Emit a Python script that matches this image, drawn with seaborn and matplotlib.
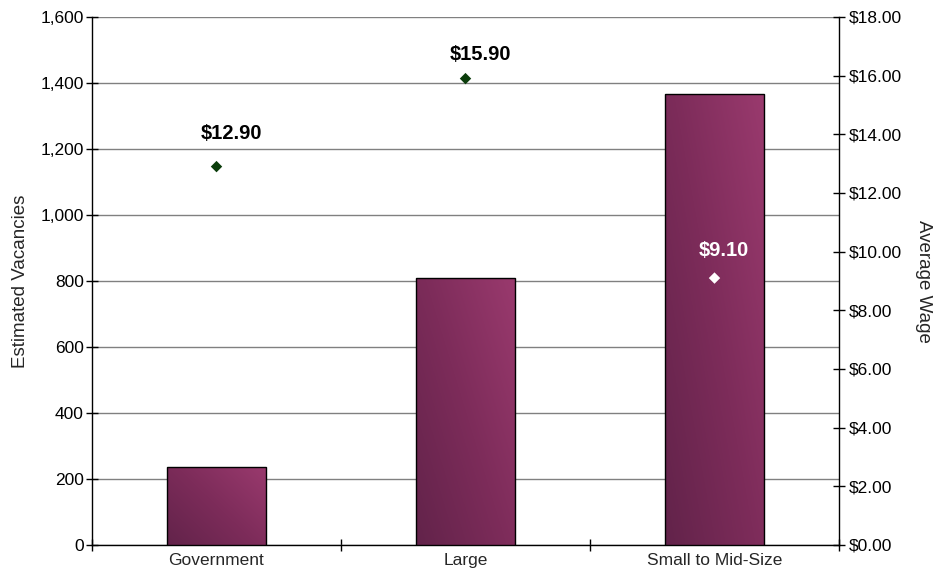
import numpy as np
import pandas as pd
import matplotlib
matplotlib.use("Agg")
import matplotlib.pyplot as plt
import seaborn as sns
from matplotlib.colors import LinearSegmentedColormap
from matplotlib.ticker import FuncFormatter, MultipleLocator, FixedLocator

categories = ["Government", "Large", "Small to Mid-Size"]
vacancies = [237, 810, 1368]
wages = [12.90, 15.90, 9.10]
wage_labels = ["$12.90", "$15.90", "$9.10"]
marker_colors = ["#0b3d0b", "#0b3d0b", "#ffffff"]
label_colors = ["#000000", "#000000", "#ffffff"]
label_offsets_pt = [(11, 24), (11, 17), (7, 19.5)]

sns.set_theme(style="white")
plt.rcParams['font.family'] = ['Liberation Sans', 'DejaVu Sans']

fig = plt.figure(figsize=(9.44, 5.8), dpi=100)
ax = fig.add_axes([92/944, 1-545/580, (839-92)/944, (545-17)/580])

df = pd.DataFrame({"cat": categories, "vac": vacancies})
sns.barplot(data=df, x="cat", y="vac", ax=ax, width=0.4, color="#8a3060",
            edgecolor="black", linewidth=1, saturation=1, zorder=3)

cmap = LinearSegmentedColormap.from_list("g", ["#62234a", "#7d2c5a", "#9a3a6e"])
yy, xx = np.mgrid[0:1:200j, 0:1:200j]
grad = 0.55 * xx + 0.45 * yy
for p in ax.patches:
    x0, y0 = p.get_x(), p.get_y()
    w, h = p.get_width(), p.get_height()
    im = ax.imshow(grad, cmap=cmap, extent=[x0, x0 + w, y0, y0 + h],
                   origin="lower", aspect="auto", zorder=3.5)
    im.set_clip_path(p)
    p.set_zorder(4)
    p.set_facecolor("none")

ax.set_xlim(-0.5, 2.5)
ax.set_ylim(0, 1600)
ax.yaxis.set_major_locator(MultipleLocator(200))
ax.yaxis.set_major_formatter(FuncFormatter(lambda v, p: f"{int(v):,}"))
ax.grid(axis="y", color="#808080", linewidth=1, zorder=0)
ax.set_axisbelow(True)
ax.set_xlabel("")
ax.set_ylabel("Estimated Vacancies", fontsize=13.5, labelpad=8)
ax.tick_params(axis="y", direction="inout", length=8, width=1, colors="black",
               labelsize=12.5, left=True, pad=2)
ax.tick_params(axis="x", which="major", length=0, labelsize=12.5, pad=6)
ax.xaxis.set_minor_locator(FixedLocator([-0.5, 0.5, 1.5, 2.5]))
ax.tick_params(axis="x", which="minor", direction="inout", length=8, width=1,
               color="black", bottom=True)
for s in ["left", "bottom"]:
    ax.spines[s].set_color("black")
    ax.spines[s].set_linewidth(1)
ax.spines["top"].set_visible(False)
ax.spines["right"].set_visible(False)

ax2 = ax.twinx()
ax2.set_ylim(0, 18)
ax2.yaxis.set_major_locator(MultipleLocator(2))
ax2.yaxis.set_major_formatter(FuncFormatter(lambda v, p: f"${v:.2f}"))
ax2.tick_params(axis="y", direction="inout", length=8, width=1, colors="black",
                labelsize=12.5, right=True, pad=3)
ax2.set_ylabel("Average Wage", fontsize=13.5, rotation=-90, labelpad=22)
ax2.spines["right"].set_color("black")
ax2.spines["right"].set_linewidth(1)
for s in ["top", "left", "bottom"]:
    ax2.spines[s].set_visible(False)
ax2.grid(False)

xs = list(range(len(categories)))
ax2.scatter(xs, wages, marker="D", s=34, c=marker_colors, edgecolors="none", zorder=6)
for x, w, lab, c, off in zip(xs, wages, wage_labels, label_colors, label_offsets_pt):
    ax2.annotate(lab, (x, w), xytext=off, textcoords="offset points",
                 ha="center", va="center", fontsize=14.5, fontweight="bold", color=c)

fig.savefig("out.png", dpi=100, facecolor="white")
